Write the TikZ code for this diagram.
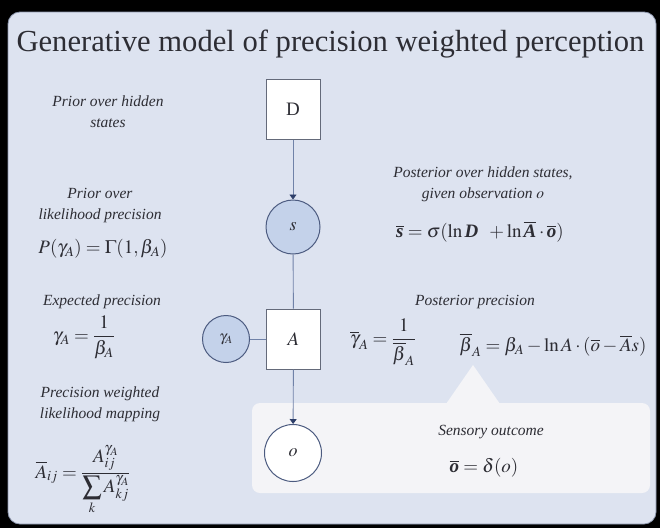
\documentclass[tikz,border=0pt]{standalone}
\usepackage{amsmath}
\usepackage{mathptmx}
\usepackage{fontspec}
\setmainfont{Liberation Serif}
\usetikzlibrary{arrows.meta,positioning}
\definecolor{panelblue}{RGB}{221,227,240}
\definecolor{panelline}{RGB}{140,150,172}
\definecolor{stateblue}{RGB}{196,210,234}
\definecolor{edgeblue}{RGB}{112,130,168}
\definecolor{tipnavy}{RGB}{45,62,105}
\definecolor{calloutgray}{RGB}{244,244,247}
\definecolor{boxline}{RGB}{100,106,122}
\definecolor{textgray}{RGB}{45,45,52}
\newcommand{\bv}[1]{\textbf{\textit{#1}}}
\newcommand{\bvbar}[1]{\overline{\textbf{\textit{#1}}}}
\newcommand{\ol}[1]{\overline{#1}}

\begin{document}
\begin{tikzpicture}[x=1pt, y=-1pt,
    box/.style={rectangle, draw=boxline, fill=white, line width=1pt,
                minimum width=54pt, minimum height=60pt, text=textgray,
                font=\fontsize{19}{21}\selectfont},
    var/.style={circle, draw=tipnavy!85, line width=1pt, inner sep=0pt,
                minimum size=54pt, text=textgray, font=\fontsize{18}{20}\selectfont},
    lbl/.style={align=center, text=textgray, font=\itshape\fontsize{15.5}{21}\selectfont},
    eqn/.style={text=textgray, inner sep=1pt, font=\fontsize{19}{21}\selectfont},
    arrow/.style={-{Triangle[width=7pt,length=5pt,color=tipnavy]}, line width=0.9pt, edgeblue},
    link/.style={line width=0.9pt, edgeblue}]

% Background and panel
\fill[black] (0,0) rectangle (660,528);
\draw[fill=panelblue, draw=panelline, line width=0.8pt, rounded corners=12pt] (8,12) rectangle (656,524);

% Callout behind the outcome node
\fill[calloutgray, rounded corners=8pt] (252,403) rectangle (650,493);
\fill[calloutgray] (446,404) -- (473,365) -- (500,404) -- cycle;

% Title
\node[anchor=west, text=textgray, font=\fontsize{30.6}{34}\selectfont] (title) at (13,44)
  {Generative model of precision weighted perception};

% Graph
\node[box] (D) at (293,109) {D};
\node[var, fill=stateblue] (s) at (293,227) {$s$};
\node[box] (A) at (293.5,339) {$A$};
\node[var, fill=stateblue, minimum size=47pt, font=\fontsize{15}{17}\selectfont] (gA) at (226,339) {$\gamma_A$};
\node[var, fill=white, minimum size=57pt] (o) at (293,453) {$o$};

\draw[arrow] (D) -- (s);
\draw[link] (s) -- (A);
\draw[link] (gA) -- (A);
\draw[arrow] (A) -- (o);

% Left column
\node[lbl] (priorD) at (108,112) {Prior over hidden\\states};
\node[lbl] (priorG) at (100,206) {Prior over\\likelihood precision};
\node[eqn] (priorEq) at (103,249) {$P(\gamma_A)=\Gamma(1,\beta_A)$};
\node[lbl] (expG) at (102,302) {Expected precision};
\node[eqn] (expEq) at (84,337) {$\gamma_A=\dfrac{1}{\beta_A}$};
\node[lbl] (mapL) at (100,404) {Precision weighted\\likelihood mapping};
\node[eqn] (mapEq) at (83,480) {$\ol{A}_{ij}=\dfrac{A_{ij}^{\gamma_A}}{\displaystyle\sum_k A_{kj}^{\gamma_A}}$};

% Right column
\node[lbl] (postS) at (483,184) {Posterior over hidden states,\\given observation $o$};
\node[eqn] (postSEq) at (480,232) {$\bvbar{s}=\sigma(\ln\bv{D}\;\;+\ln\bvbar{A}\cdot\bvbar{o})$};
\node[lbl] (postG) at (475,302) {Posterior precision};
\node[eqn] (postGEq) at (383,342) {$\ol{\gamma}_A=\dfrac{1}{\ol{\beta}_A}$};
\node[eqn] (postBEq) at (553,345) {$\ol{\beta}_A=\beta_A-\ln A\cdot(\ol{o}-\ol{A}s)$};
\node[lbl] (sens) at (491,432) {Sensory outcome};
\node[eqn] (sensEq) at (484,468) {$\bvbar{o}=\delta(o)$};
\end{tikzpicture}
\end{document}
